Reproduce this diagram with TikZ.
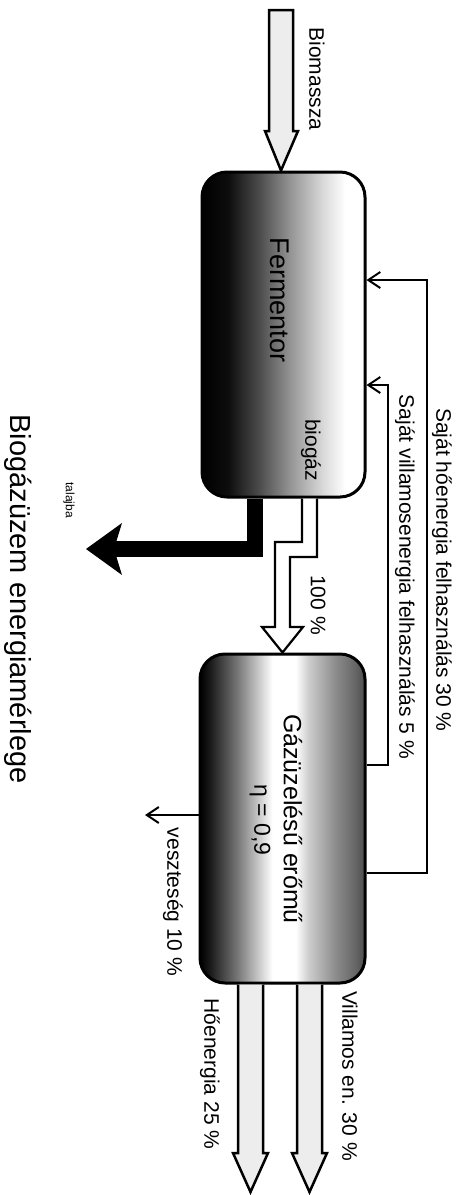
\documentclass[tikz,border=0pt]{standalone}
\usepackage{fontspec}
\setmainfont{Liberation Sans}
\usetikzlibrary{arrows.meta,calc}
\pgfdeclarehorizontalshading{fermsh}{100bp}{color(0bp)=(black); color(25bp)=(black); color(33bp)=(black!95); color(42bp)=(black!72); color(52bp)=(black!42); color(62bp)=(black!15); color(69bp)=(white); color(100bp)=(white)}
\pgfdeclarehorizontalshading{erosh}{100bp}{color(0bp)=(black); color(25bp)=(black); color(28bp)=(black!90); color(36bp)=(black!55); color(44bp)=(black!15); color(47bp)=(white); color(54bp)=(white); color(58bp)=(black!20); color(66bp)=(black!45); color(72bp)=(black!60); color(75bp)=(black!70); color(100bp)=(black!70)}
\tikzset{
  lbl/.style={rotate=-90, font=\fontsize{21}{24}\selectfont, inner sep=0pt},
  fb/.style={line width=2.4pt, -{Straight Barb[length=12pt,width=16pt,line width=2pt]}},
  hollow/.style={draw, line width=2.5pt, fill=black!7, line join=miter},
  tank/.style={draw, line width=3pt, rounded corners=25pt, inner sep=0pt}
}
\begin{document}
\begin{tikzpicture}[x=1pt,y=-1pt]
\useasboundingbox (0,0) rectangle (466,1195);
\fill[white] (0,0) rectangle (466,1195);

% tanks
\node[tank, shading=fermsh, minimum width=163pt, minimum height=325pt] (ferm) at (283.5,334.5) {};
\node[tank, shading=erosh, minimum width=165pt, minimum height=329pt] (ero) at (282.5,818.5) {};

% biomass input arrow
\draw[hollow] (269,10) -- (293,10) -- (293,131) -- (298,131) -- (ferm.north -| 281,0) -- (265,131) -- (269,131) -- cycle;

% biogas pipe
\draw[line width=2.2pt, fill=white, line join=miter]
  (ferm.south -| 302,0) -- (302,542) -- (275,542) -- (275,627) -- (262,627)
  -- (ero.north -| 282.5,0) -- (303,627) -- (290,627) -- (290,557) -- (317,557) -- (ferm.south -| 317,0);

% digestate to soil
\draw[line width=16pt, line join=miter] (ferm.south -| 255,0) -- (255,549) -- (114,549);
\fill (86,549) -- (122,523) -- (114,549) -- (122,575) -- cycle;

% feedback lines
\coordinate (o1) at (427,873);
\coordinate (o2) at (427,280);
\coordinate (i1) at (388,765);
\coordinate (i2) at (388,385);
\draw[fb] (ero.east |- o1) -- (o1) -- (o2) -- (ferm.east |- o2);
\draw[fb] (ero.east |- i1) -- (i1) -- (i2) -- (ferm.east |- i2);

% loss
\coordinate (l1) at (145,815);
\draw[fb] (ero.west |- l1) -- (l1);

% output arrows
\draw[hollow] (ero.south -| 238,0) -- (238,1153) -- (233,1153) -- (250.5,1192) -- (268,1153) -- (263,1153) -- (ero.south -| 263,0);
\draw[hollow] (ero.south -| 297,0) -- (297,1153) -- (292,1153) -- (309.5,1192) -- (327,1153) -- (322,1153) -- (ero.south -| 322,0);

% labels
\node[lbl] (bio) at (317,79) {Biomassza};
\node[lbl, font=\fontsize{27}{30}\selectfont] (fermt) at (280,300) {Fermentor};
\node[lbl] (biogaz) at (311,450) {biogáz};
\node[lbl] (sh) at (442,570) {Saját hőenergia felhasználás 30 \%};
\node[lbl] (sv) at (405,577) {Saját villamosenergia felhasználás 5 \%};
\node[lbl] (p100) at (318,605) {100 \%};
\node[lbl, font=\fontsize{25}{28}\selectfont] (erot) at (293,819) {Gázüzelésű erőmű};
\node[lbl, font=\fontsize{23}{26}\selectfont] (eta) at (260,820) {η = 0,9};
\node[lbl] (vesz) at (173,902) {veszteség 10 \%};
\node[lbl] (ho) at (210,1074) {Hőenergia 25 \%};
\node[lbl] (vill) at (350,1076) {Villamos en. 30 \%};
\node[lbl, font=\fontsize{12}{14}\selectfont] (tal) at (69,500) {talajba};
\node[lbl, font=\fontsize{29}{32}\selectfont] (title) at (18,599) {Biogázüzem energiamérlege};
\end{tikzpicture}
\end{document}
